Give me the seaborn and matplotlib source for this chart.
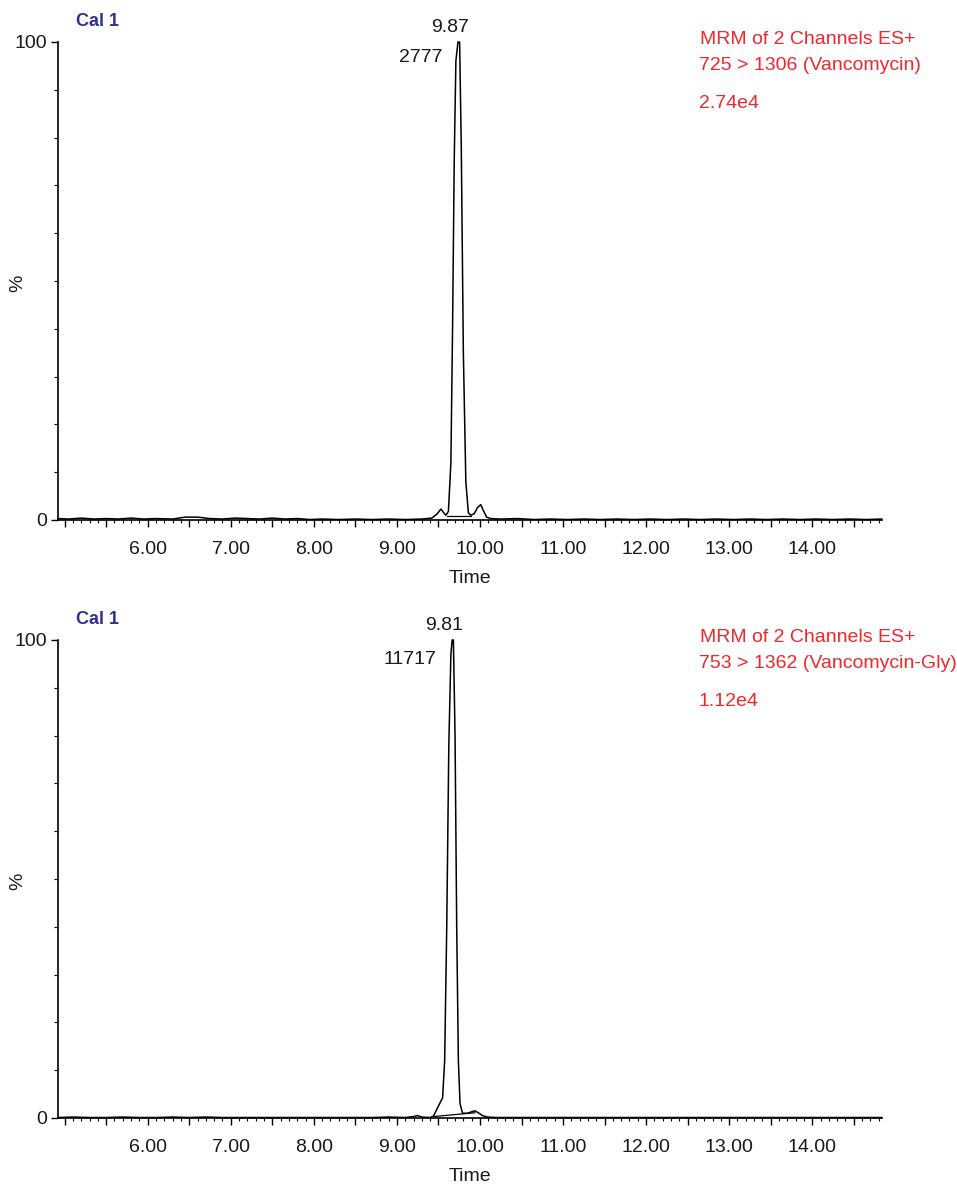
import matplotlib
matplotlib.use("Agg")
import matplotlib.pyplot as plt
import seaborn as sns
import pandas as pd
import numpy as np
from matplotlib.ticker import MultipleLocator, FixedLocator, FuncFormatter

# ---------------- data ----------------
# Panel 1: 725 > 1306 (Vancomycin)
t1 = [4.92, 5.05, 5.20, 5.35, 5.50, 5.65, 5.80, 5.95, 6.10, 6.30, 6.45, 6.60, 6.75,
      6.90, 7.05, 7.20, 7.35, 7.50, 7.65, 7.80, 7.95, 8.10, 8.30, 8.50, 8.70, 8.90,
      9.10, 9.30, 9.42, 9.48, 9.53, 9.56, 9.59, 9.62, 9.65, 9.67, 9.69, 9.71, 9.735,
      9.755, 9.775, 9.80, 9.83, 9.86, 9.89, 9.93, 9.97, 10.01, 10.04, 10.08, 10.13,
      10.25, 10.45, 10.65, 10.85, 11.05, 11.25, 11.45, 11.65, 11.85, 12.05, 12.25,
      12.45, 12.65, 12.85, 13.05, 13.25, 13.45, 13.65, 13.85, 14.05, 14.25, 14.45,
      14.65, 14.84]
i1 = [0.3, 0.2, 0.4, 0.2, 0.3, 0.2, 0.4, 0.2, 0.3, 0.2, 0.6, 0.6, 0.3,
      0.2, 0.4, 0.3, 0.2, 0.4, 0.2, 0.3, 0.1, 0.2, 0.1, 0.2, 0.1, 0.2,
      0.1, 0.2, 0.4, 1.2, 2.3, 1.6, 1.0, 1.8, 12.0, 40.0, 75.0, 96.0, 100.0,
      100.0, 78.0, 35.0, 8.0, 1.5, 1.0, 1.3, 2.6, 3.2, 2.0, 0.6, 0.3,
      0.2, 0.3, 0.1, 0.2, 0.1, 0.2, 0.1, 0.2, 0.1, 0.2, 0.1,
      0.2, 0.1, 0.2, 0.1, 0.2, 0.1, 0.2, 0.1, 0.2, 0.1, 0.2,
      0.1, 0.2]
base1_t = [9.60, 9.89]
base1_i = [0.9, 0.9]

# Panel 2: 753 > 1362 (Vancomycin-Gly)
t2 = [4.92, 5.10, 5.30, 5.50, 5.70, 5.90, 6.10, 6.30, 6.50, 6.70, 6.90, 7.10, 7.30,
      7.50, 7.70, 7.90, 8.10, 8.30, 8.50, 8.70, 8.90, 9.10, 9.20, 9.25, 9.30, 9.40,
      9.44, 9.48, 9.52, 9.55, 9.575, 9.60, 9.625, 9.65, 9.665, 9.68, 9.70, 9.72,
      9.74, 9.76, 9.79, 9.85, 9.90, 9.94, 9.98, 10.03, 10.09, 10.20, 10.40, 10.60,
      10.80, 11.00, 11.20, 11.40, 11.60, 11.80, 12.00, 12.20, 12.40, 12.60, 12.80,
      13.00, 13.20, 13.40, 13.60, 13.80, 14.00, 14.20, 14.40, 14.60, 14.84]
i2 = [0.1, 0.2, 0.1, 0.1, 0.2, 0.1, 0.1, 0.2, 0.1, 0.2, 0.1, 0.1, 0.1,
      0.1, 0.1, 0.1, 0.1, 0.1, 0.1, 0.1, 0.2, 0.1, 0.3, 0.5, 0.2, 0.1,
      0.4, 1.8, 3.2, 4.2, 12.0, 40.0, 78.0, 97.0, 100.0, 100.0, 80.0, 40.0,
      12.0, 3.0, 1.0, 1.0, 1.3, 1.5, 1.1, 0.5, 0.2, 0.1, 0.1, 0.1,
      0.1, 0.1, 0.1, 0.1, 0.1, 0.1, 0.1, 0.1, 0.1, 0.1, 0.1,
      0.1, 0.1, 0.1, 0.1, 0.1, 0.1, 0.1, 0.1, 0.1, 0.1]
base2_t = [9.44, 9.94]
base2_i = [0.3, 1.1]

sample_names = ["Cal 1", "Cal 1"]
header_lines = ["MRM of 2 Channels ES+", "MRM of 2 Channels ES+"]
transitions = ["725 > 1306 (Vancomycin)", "753 > 1362 (Vancomycin-Gly)"]
intensities = ["2.74e4", "1.12e4"]
peak_rt_labels = ["9.87", "9.81"]
peak_area_labels = ["2777", "11717"]
peak_apex_t = [9.745, 9.672]

xtick_vals = [6, 7, 8, 9, 10, 11, 12, 13, 14]
xtick_labels = ["6.00", "7.00", "8.00", "9.00", "10.00", "11.00", "12.00", "13.00", "14.00"]

# ---------------- drawing ----------------
sns.set_style("ticks")
plt.rcParams['font.family'] = ['Liberation Sans', 'DejaVu Sans']

W, H = 957, 1187
fig = plt.figure(figsize=(W / 100, H / 100), dpi=100)

panels = [
    (t1, i1, base1_t, base1_i, 42, 520),
    (t2, i2, base2_t, base2_i, 640, 1118),
]

red = '#f2262b'
blue = '#2e3192'
txt = '#1a1a1a'
FS = 14

for k, (tt, ii, bt, bi, ytop, ybot) in enumerate(panels):
    left, right = 58 / W, 882 / W
    ax = fig.add_axes([left, 1 - ybot / H, right - left, (ybot - ytop) / H])
    df = pd.DataFrame({"Time": tt, "pct": ii})
    sns.lineplot(data=df, x="Time", y="pct", ax=ax, color='black', lw=1.1,
                 sort=False, estimator=None, clip_on=False)
    dfb = pd.DataFrame({"Time": bt, "pct": bi})
    sns.lineplot(data=dfb, x="Time", y="pct", ax=ax, color='black', lw=0.9,
                 sort=False, estimator=None, clip_on=False)

    ax.set_xlim(4.92, 14.84)
    ax.set_ylim(0, 100)
    sns.despine(ax=ax)
    for s in ['left', 'bottom']:
        ax.spines[s].set_linewidth(1.2)
        ax.spines[s].set_color('black')

    # x ticks
    xmaj = [5.0 + 0.5 * n for n in range(20)]
    ax.xaxis.set_major_locator(FixedLocator(xmaj))
    ax.xaxis.set_major_formatter(FuncFormatter(
        lambda v, p: xtick_labels[xtick_vals.index(int(round(v)))]
        if abs(v - round(v)) < 1e-6 and int(round(v)) in xtick_vals else ""))
    ax.xaxis.set_minor_locator(MultipleLocator(0.1))
    ax.tick_params(axis='x', which='major', length=5, width=1.0, labelsize=FS,
                   color='black', labelcolor=txt, pad=10)
    ax.tick_params(axis='x', which='minor', length=2.5, width=0.8, color='black')

    # y ticks
    ax.yaxis.set_major_locator(FixedLocator([0, 100]))
    ax.yaxis.set_minor_locator(MultipleLocator(10))
    ax.tick_params(axis='y', which='major', length=5, width=1.0, labelsize=FS,
                   color='black', labelcolor=txt, pad=3)
    ax.tick_params(axis='y', which='minor', length=3, width=0.8, color='black')

    ax.set_xlabel("Time", fontsize=FS, color=txt, labelpad=9)
    ax.set_ylabel("")
    fig.text(18 / W, 1 - ((ytop + ybot) / 2 + 2) / H, "%", rotation=90,
             fontsize=FS, color=txt, ha='center', va='center')

    # peak annotations
    apex = peak_apex_t[k]
    ax.annotate(peak_rt_labels[k], xy=(apex, 100), xytext=(-6, 4),
                textcoords='offset points', ha='center', va='bottom',
                fontsize=FS, color=txt, annotation_clip=False)
    ax.annotate(peak_area_labels[k], xy=(apex, 100), xytext=(-12, -11 if k == 0 else -14),
                textcoords='offset points', ha='right', va='center',
                fontsize=FS, color=txt, annotation_clip=False)

    # headers
    fig.text(76 / W, 1 - (ytop - 20) / H, sample_names[k], fontsize=13,
             fontweight='bold', color=blue, ha='left', va='center')
    fig.text(700 / W, 1 - (ytop - 2) / H, header_lines[k], fontsize=FS,
             color=red, ha='left', va='center')
    fig.text(699 / W, 1 - (ytop + 24) / H, transitions[k], fontsize=FS,
             color=red, ha='left', va='center')
    fig.text(699 / W, 1 - (ytop + 62) / H, intensities[k], fontsize=FS,
             color=red, ha='left', va='center')

fig.savefig("out.png", dpi=100)
